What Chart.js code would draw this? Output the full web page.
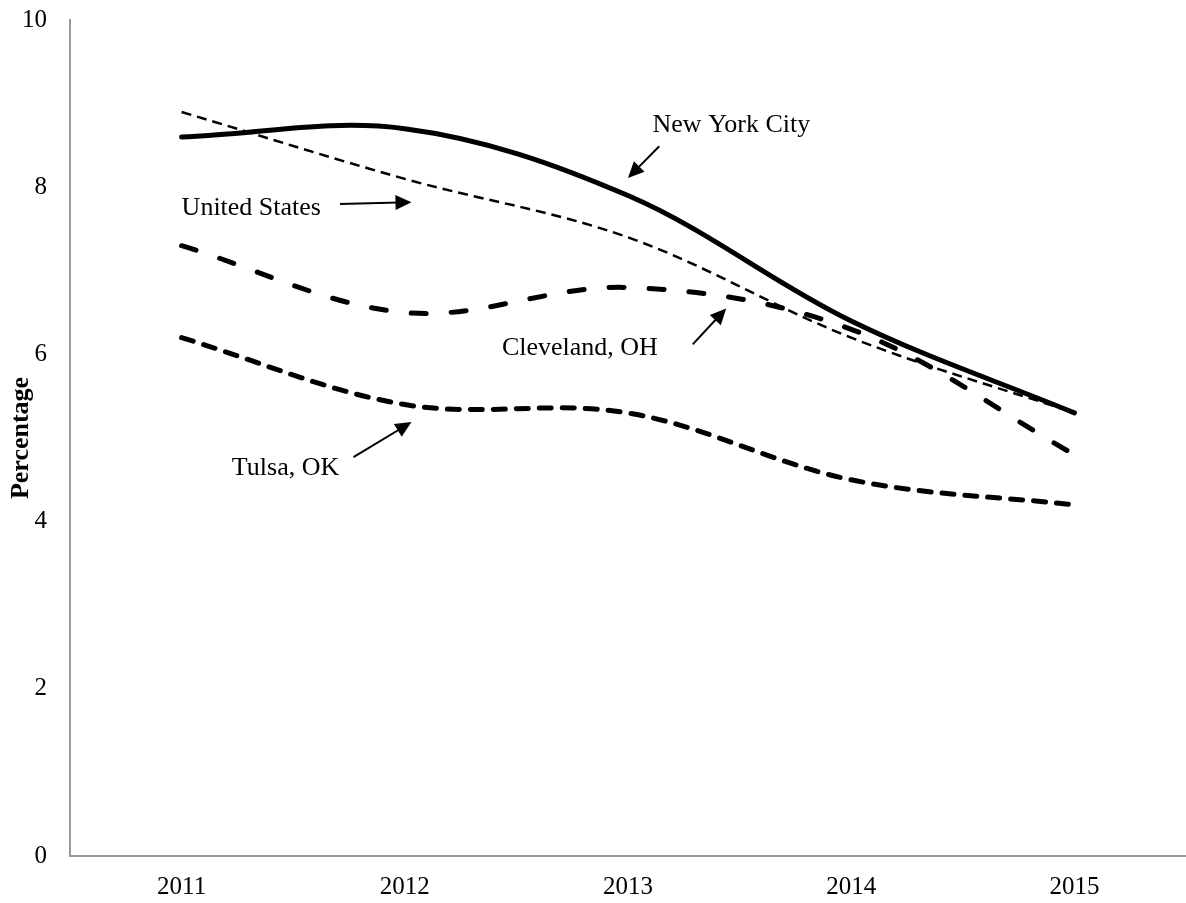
<!DOCTYPE html>
<html>
<head>
<meta charset="utf-8">
<script src="https://cdn.jsdelivr.net/npm/chart.js@4.4.1/dist/chart.umd.min.js"></script>
<style>
  html, body { margin: 0; padding: 0; background: #fff; }
  #wrap { width: 1186px; height: 903px; }
</style>
</head>
<body>
<div id="wrap"><canvas id="myChart" width="1186" height="903"></canvas></div>
<script>
// values
const years = ['2011', '2012', '2013', '2014', '2015'];
const newYork = [8.6, 8.7, 7.9, 6.4, 5.3];
const unitedStates = [8.9, 8.1, 7.4, 6.2, 5.3];
const cleveland = [7.3, 6.5, 6.8, 6.3, 4.8];
const tulsa = [6.2, 5.4, 5.3, 4.5, 4.2];

// callout labels, placed in data units (category index, value)
const callouts = [
  { text: 'New York City', tx: 2.11, ty: 8.74, from: [2.14, 8.49], to: [2.00, 8.11] },
  { text: 'United States', tx: 0.0, ty: 7.75, from: [0.71, 7.80], to: [1.03, 7.82] },
  { text: 'Cleveland, OH', tx: 1.435, ty: 6.08, from: [2.29, 6.12], to: [2.44, 6.55] },
  { text: 'Tulsa, OK', tx: 0.225, ty: 4.64, from: [0.77, 4.77], to: [1.03, 5.19] }
];

const serif = '"Liberation Serif", "Times New Roman", serif';

const calloutPlugin = {
  id: 'callouts',
  afterDatasetsDraw(chart) {
    const { ctx, scales: { x, y } } = chart;
    ctx.save();
    ctx.fillStyle = '#000';
    ctx.strokeStyle = '#000';
    ctx.font = '26px ' + serif;
    ctx.textAlign = 'left';
    ctx.textBaseline = 'middle';
    callouts.forEach(c => {
      ctx.fillText(c.text, x.getPixelForValue(c.tx), y.getPixelForValue(c.ty));
      const x1 = x.getPixelForValue(c.from[0]), y1 = y.getPixelForValue(c.from[1]);
      const x2 = x.getPixelForValue(c.to[0]), y2 = y.getPixelForValue(c.to[1]);
      const ang = Math.atan2(y2 - y1, x2 - x1);
      const headLen = 16, headW = 7.5;
      // shaft
      ctx.lineWidth = 2;
      ctx.beginPath();
      ctx.moveTo(x1, y1);
      ctx.lineTo(x2 - Math.cos(ang) * headLen * 0.8, y2 - Math.sin(ang) * headLen * 0.8);
      ctx.stroke();
      // head
      ctx.beginPath();
      ctx.moveTo(x2, y2);
      ctx.lineTo(x2 - Math.cos(ang) * headLen - Math.sin(ang) * headW,
                 y2 - Math.sin(ang) * headLen + Math.cos(ang) * headW);
      ctx.lineTo(x2 - Math.cos(ang) * headLen + Math.sin(ang) * headW,
                 y2 - Math.sin(ang) * headLen - Math.cos(ang) * headW);
      ctx.closePath();
      ctx.fill();
    });
    ctx.restore();
  }
};

var ctx = document.getElementById('myChart').getContext('2d');
const myChart = new Chart(ctx, {
  type: 'line',
  data: {
    labels: years,
    datasets: [
      {
        label: 'United States',
        data: unitedStates,
        borderColor: '#000',
        borderWidth: 2.5,
        borderDash: [10, 6],
        borderCapStyle: 'butt'
      },
      {
        label: 'Cleveland, OH',
        data: cleveland,
        borderColor: '#000',
        borderWidth: 5,
        borderDash: [15, 25],
        borderCapStyle: 'round'
      },
      {
        label: 'Tulsa, OK',
        data: tulsa,
        borderColor: '#000',
        borderWidth: 5,
        borderDash: [12, 11],
        borderCapStyle: 'round'
      },
      {
        label: 'New York City',
        data: newYork,
        borderColor: '#000',
        borderWidth: 5,
        borderCapStyle: 'round'
      }
    ]
  },
  options: {
    responsive: false,
    animation: false,
    events: [],
    elements: {
      point: { radius: 0 },
      line: { tension: 0.35, fill: false }
    },
    layout: { padding: { top: 20, right: 0, left: 0, bottom: 0 } },
    plugins: {
      legend: { display: false },
      tooltip: { enabled: false }
    },
    scales: {
      x: {
        offset: true,
        grid: { display: false, drawTicks: false },
        border: { color: '#999', width: 2 },
        ticks: { color: '#000', padding: 16, font: { family: serif, size: 25 } },
        afterFit(scale) { scale.height = 47; scale.paddingLeft = 0; scale.paddingRight = 0; }
      },
      y: {
        min: 0,
        max: 10,
        grid: { display: false, drawTicks: false },
        border: { color: '#999', width: 2 },
        ticks: { stepSize: 2, color: '#000', padding: 23, font: { family: serif, size: 25 } },
        title: {
          display: true,
          text: 'Percentage',
          color: '#000',
          padding: { top: 6, bottom: 0 },
          font: { family: serif, size: 26, weight: 'bold' }
        },
        afterFit(scale) { scale.width = 70; scale.paddingTop = 0; scale.paddingBottom = 0; }
      }
    }
  },
  plugins: [calloutPlugin]
});
</script>
</body>
</html>
